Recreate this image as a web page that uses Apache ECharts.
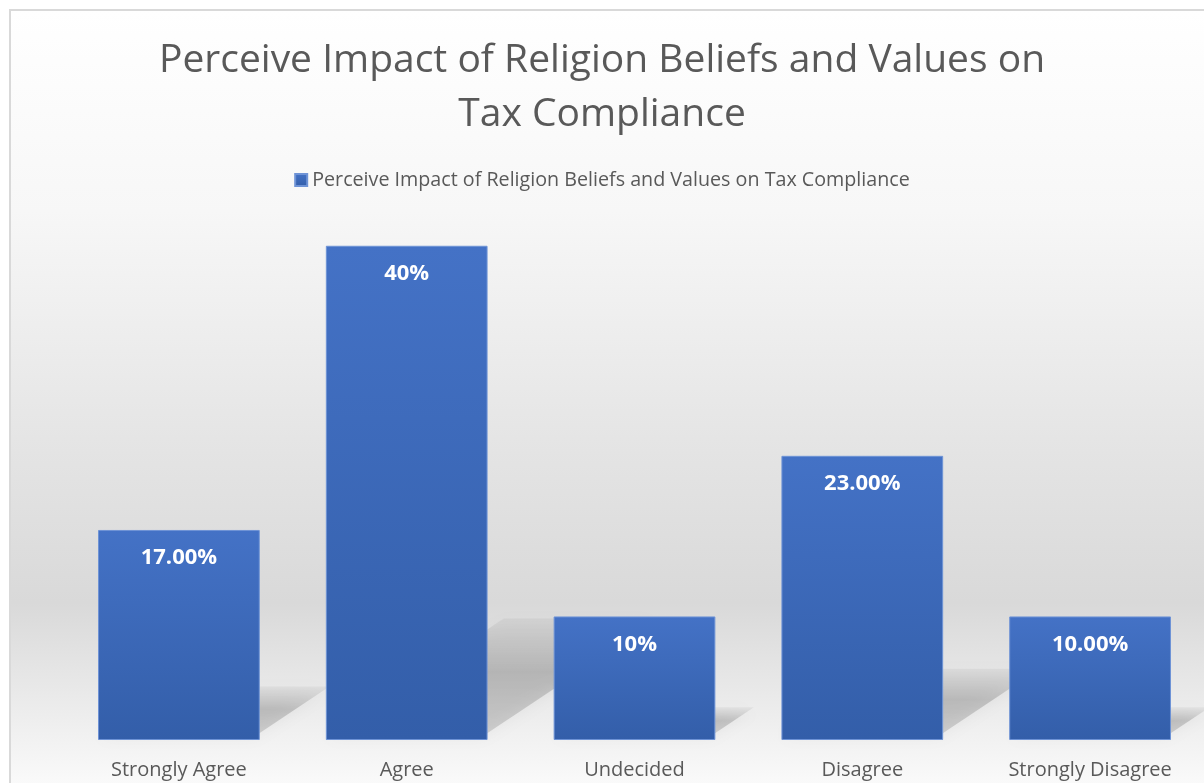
<!DOCTYPE html>
<html>
<head>
<meta charset="utf-8">
<script src="https://cdn.jsdelivr.net/npm/echarts@6/dist/echarts.min.js"></script>
<style>
  html, body { margin: 0; padding: 0; overflow: hidden; background: #ffffff; }
  #frame {
    position: absolute; left: 9px; top: 9px; width: 1210px; height: 800px;
    border: 2px solid #d9d9d9;
    background: linear-gradient(to bottom, #ffffff 0%, #f7f7f7 25%, #e4e4e4 55%, #d9d9d9 74%, #f3f3f3 92%, #ffffff 100%);
  }
  #chart { position: absolute; left: 0; top: 0; width: 1204px; height: 783px; }
</style>
</head>
<body>
<div id="frame"></div>
<div id="chart"></div>
<script>
// 数据
const categories = ['Strongly Agree', 'Agree', 'Undecided', 'Disagree', 'Strongly Disagree'];
const values = [17, 40, 10, 23, 10];
const valueLabels = ['17.00%', '40%', '10%', '23.00%', '10.00%'];
const seriesName = 'Perceive Impact of Religion Beliefs and Values on Tax Compliance';

const textColor = '#595959';
const fontFamily = '"Open Sans", "Noto Sans", sans-serif';

const chart = echarts.init(document.getElementById('chart'));

// 柱子投影（透视阴影）
const renderShadow = (params, api) => {
  const top = api.coord([api.value(0), api.value(1)]);
  const base = api.coord([api.value(0), 0]);
  const band = api.size([1, 0])[0];
  const half = band * 0.71 / 2;
  const h = (base[1] - top[1]) * 0.24;
  const dx = h * 1.5;
  const x0 = base[0] - half;
  const x1 = base[0] + half - 6;
  const y0 = base[1] - 3;
  return {
    type: 'polygon',
    shape: { points: [[x0, y0], [x1, y0], [x1 + dx, y0 - h], [x0 + dx, y0 - h]] },
    style: {
      fill: new echarts.graphic.LinearGradient(0, 0, 0, 1, [
        { offset: 0, color: 'rgba(0,0,0,0.04)' },
        { offset: 0.45, color: 'rgba(0,0,0,0.17)' },
        { offset: 1, color: 'rgba(0,0,0,0.13)' }
      ]),
      shadowBlur: 16,
      shadowColor: 'rgba(0,0,0,0.3)'
    },
    silent: true
  };
};

const option = {
  animation: false,
  backgroundColor: 'transparent',
  title: {
    text: 'Perceive Impact of Religion Beliefs and Values on\nTax Compliance',
    left: 'center',
    top: 29,
    textStyle: {
      color: textColor,
      fontFamily: fontFamily,
      fontSize: 39,
      fontWeight: 'normal',
      lineHeight: 54
    }
  },
  legend: {
    data: [seriesName],
    top: 165,
    left: 'center',
    icon: 'rect',
    itemWidth: 12,
    itemHeight: 12,
    itemGap: 6,
    textStyle: { color: textColor, fontFamily: fontFamily, fontSize: 19.7 }
  },
  grid: { left: 65, top: 184, width: 1142.5, bottom: 43, containLabel: false },
  xAxis: {
    type: 'category',
    data: categories,
    axisLine: { show: false },
    axisTick: { show: false },
    axisLabel: {
      color: textColor,
      fontFamily: fontFamily,
      fontSize: 20,
      margin: 20
    }
  },
  yAxis: {
    type: 'value',
    min: 0,
    max: 45,
    show: false,
    splitLine: { show: false }
  },
  series: [
    {
      type: 'custom',
      name: 'shadow',
      renderItem: renderShadow,
      data: values.map((v, i) => [i, v]),
      z: 1,
      silent: true,
      tooltip: { show: false }
    },
    {
      type: 'bar',
      name: seriesName,
      data: values,
      barWidth: '71%',
      z: 2,
      itemStyle: {
        color: new echarts.graphic.LinearGradient(0, 0, 0, 1, [
          { offset: 0, color: '#4472c6' },
          { offset: 1, color: '#335ea9' }
        ]),
        borderColor: '#6e93d6',
        borderWidth: 1
      },
      label: {
        show: true,
        position: 'insideTop',
        distance: 17,
        color: '#ffffff',
        fontFamily: fontFamily,
        fontSize: 22,
        fontWeight: 'bold',
        formatter: (p) => valueLabels[p.dataIndex]
      }
    }
  ]
};

chart.setOption(option);
</script>
</body>
</html>
